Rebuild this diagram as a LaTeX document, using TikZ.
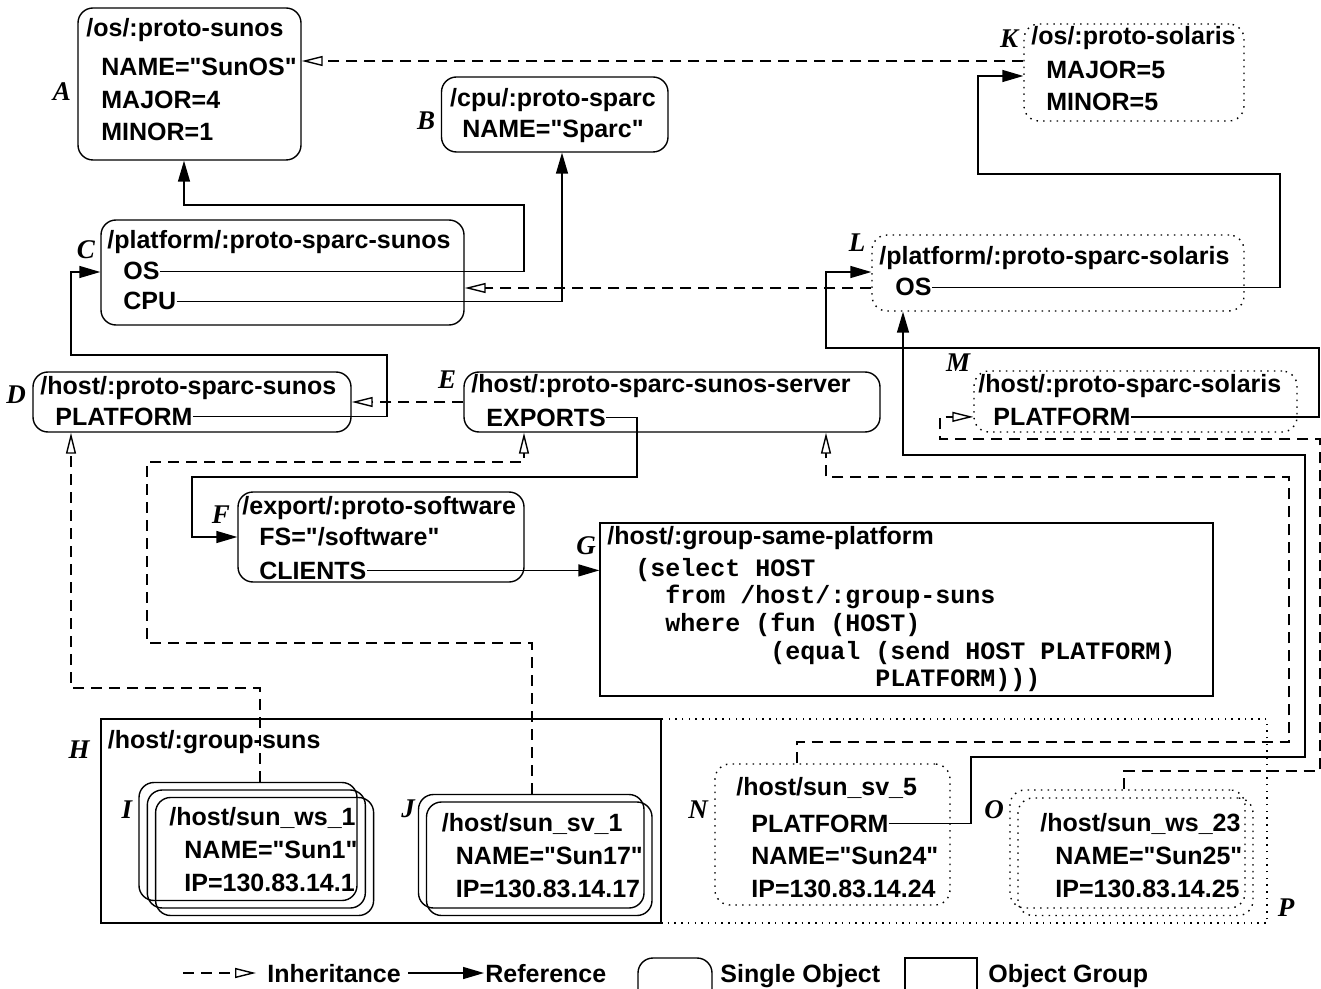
\documentclass[tikz,border=0pt]{standalone}
\usepackage{fontspec}
\newfontfamily\hv{Liberation Sans}
\newfontfamily\mn{Liberation Mono}
\newfontfamily\lblfont{Liberation Serif}
\usetikzlibrary{arrows.meta,fit}
\begin{document}
\begin{tikzpicture}[x=0.5pt,y=-0.5pt,
  obj/.style={draw, line width=0.7pt, rounded corners=7.5pt, inner sep=0pt},
  dobj/.style={obj, dash pattern=on 0.75pt off 2.6pt},
  grp/.style={draw, line width=0.7pt, inner sep=0pt},
  dgrp/.style={grp, dash pattern=on 0.75pt off 2.6pt},
  tx/.style={inner sep=0pt, anchor=base west, font=\hv\bfseries\fontsize{12.5}{15}\selectfont},
  txc/.style={tx, anchor=base},
  mono/.style={inner sep=0pt, anchor=base west, font=\mn\bfseries\fontsize{12.5}{15}\selectfont},
  lbl/.style={inner sep=0pt, font=\lblfont\bfseries\itshape\fontsize{13.5}{16}\selectfont},
  ref/.style={line width=0.7pt, -{Triangle[length=10.5pt,width=6pt]}},
  inh/.style={line width=0.7pt, dash pattern=on 5.5pt off 3.5pt, -{Triangle[open,length=10.5pt,width=5pt]}}
]
\useasboundingbox (0,0) rectangle (1321,989);
\clip (0,0) rectangle (1321,989);

% ---------- boxes ----------
\node[obj, fit={(78,8) (301,160)}] (A) {};
\node[obj, fit={(441.5,77) (668,152)}] (B) {};
\node[dobj, fit={(1024,24) (1244,121)}] (K) {};
\node[obj, fit={(101,220) (464,325)}] (C) {};
\node[dobj, fit={(872,235) (1244,311)}] (L) {};
\node[obj, fit={(33,372) (351,432)}] (D) {};
\node[obj, fit={(464,372) (880,432)}] (E) {};
\node[dobj, fit={(974,371) (1297,432)}] (M) {};
\node[obj, fit={(238,492) (524,582)}] (F) {};
\node[grp, fit={(600,523) (1213,696)}] (G) {};
\node[dgrp, fit={(661,719) (1267,923)}] (P) {};
\node[grp, fit={(101,719) (661,923)}] (H) {};
\node[obj, fit={(139,782.5) (357,900.5)}] (Ia) {};
\node[obj, fit={(147.3,790) (365.3,908)}] (Ib) {};
\node[obj, fit={(155.6,797.5) (373.6,915.5)}] (Ic) {};
\node[obj, fit={(418.5,794.5) (644,908)}] (Ja) {};
\node[obj, fit={(426.5,802) (652,915.5)}] (Jb) {};
\node[dobj, fit={(715,764) (950,905)}] (N) {};
\node[dobj, fit={(1010,790) (1245,908)}] (Oa) {};
\node[dobj, fit={(1018,798) (1253,915.5)}] (Ob) {};

% ---------- texts ----------
\node[tx] (aT) at (86,37) {/os/:proto-sunos};
\node[tx] (aN) at (101,76) {NAME="SunOS"};
\node[tx] (aMa) at (101,108.5) {MAJOR=4};
\node[tx] (aMi) at (101,141) {MINOR=1};

\node[txc] (bT) at (553,107) {/cpu/:proto-sparc};
\node[txc] (bN) at (553,138) {NAME="Sparc"};

\node[tx] (kT) at (1031,45) {/os/:proto-solaris};
\node[tx] (kMa) at (1046,79) {MAJOR=5};
\node[tx] (kMi) at (1046,111) {MINOR=5};

\node[tx] (cT) at (107,249) {/platform/:proto-sparc-sunos};
\node[tx] (cOS) at (123,280) {OS};
\node[tx] (cCPU) at (123,310) {CPU};

\node[tx] (lT) at (879,265) {/platform/:proto-sparc-solaris};
\node[tx] (lOS) at (895,296) {OS};

\node[tx] (dT) at (40,394) {/host/:proto-sparc-sunos};
\node[tx] (dPL) at (55,425) {PLATFORM};

\node[tx] (eT) at (471,393) {/host/:proto-sparc-sunos-server};
\node[tx] (eEX) at (486,426) {EXPORTS};

\node[tx] (mT) at (978,393) {/host/:proto-sparc-solaris};
\node[tx] (mPL) at (993,425.5) {PLATFORM};

\node[tx] (fT) at (242,514) {/export/:proto-software};
\node[tx] (fFS) at (259,545.5) {FS="/software"};
\node[tx] (fCL) at (259,579) {CLIENTS};

\node[tx] (gT) at (607,544) {/host/:group-same-platform};
\node[mono] (g1) at (635,576) {(select HOST};
\node[mono] (g2) at (665,603) {from /host/:group-suns};
\node[mono] (g3) at (665,631) {where (fun (HOST)};
\node[mono] (g4) at (770,659) {(equal (send HOST PLATFORM)};
\node[mono] (g5) at (875,686) {PLATFORM)))};

\node[tx] (hT) at (107.5,748) {/host/:group-suns};

\node[tx] (iT) at (169,825) {/host/sun\_ws\_1};
\node[tx] (iN) at (184,858) {NAME="Sun1"};
\node[tx] (iIP) at (184,891) {IP=130.83.14.1};

\node[tx] (jT) at (441.5,831.5) {/host/sun\_sv\_1};
\node[tx] (jN) at (455.5,864) {NAME="Sun17"};
\node[tx] (jIP) at (455.5,897) {IP=130.83.14.17};

\node[tx] (nT) at (736,795) {/host/sun\_sv\_5};
\node[tx] (nPL) at (751,832) {PLATFORM};
\node[tx] (nN) at (751,864) {NAME="Sun24"};
\node[tx] (nIP) at (751,897) {IP=130.83.14.24};

\node[tx] (oT) at (1040,831.5) {/host/sun\_ws\_23};
\node[tx] (oN) at (1055,864) {NAME="Sun25"};
\node[tx] (oIP) at (1055,897) {IP=130.83.14.25};

% ---------- letter labels ----------
\node[lbl] (lA) at (62,92) {A};
\node[lbl] (lB) at (426,121) {B};
\node[lbl] (lC) at (86,250) {C};
\node[lbl] (lD) at (16,395) {D};
\node[lbl] (lE) at (447,380) {E};
\node[lbl] (lF) at (221,515) {F};
\node[lbl] (lG) at (586,546) {G};
\node[lbl] (lH) at (79,750) {H};
\node[lbl] (lI) at (127,810) {I};
\node[lbl] (lJ) at (408,809) {J};
\node[lbl] (lK) at (1009,39) {K};
\node[lbl] (lL) at (857,243) {L};
\node[lbl] (lM) at (958,363) {M};
\node[lbl] (lN) at (698,810) {N};
\node[lbl] (lO) at (994,810) {O};
\node[lbl] (lP) at (1286,908) {P};

% ---------- connectors ----------
\draw[inh] (K.west |- 0,61) -- (A.east |- 0,61);
\draw[ref] (cOS.east) -| (524,205) -| (A.south -| 184,0);
\draw[ref] (cCPU.east) -| (B.south -| 562,0);
\draw[inh] (L.west |- 0,288) -- (C.east |- 0,288);
\draw[ref] (dPL.east) -| (387,355) -| (71,272) -- (C.west |- 0,272);
\draw[inh] (E.west |- 0,402) -- (D.east |- 0,402);
\draw[ref] (eEX.east) -| (637,477) -| (192,537) -- (F.west |- 0,537);
\draw[ref] (fCL.east) -- (G.west |- fCL.east);
\draw[inh] (Ia.north -| 260,0) |- (71,688) -- (D.south -| 71,0);
\draw[inh] (Ja.north -| 532,0) |- (147,643) |- (524,462) -- (E.south -| 524,0);
\draw[inh] (N.north -| 797,0) |- (1289,742) |- (826,477) -- (E.south -| 826,0);
\draw[inh] (Oa.north -| 1124,0) |- (1320,771) |- (940,439) |- (M.west |- mPL.east);
\draw[ref] (mPL.east) -| (1319,348) -| (826,272) -- (L.west |- 0,272);
\draw[ref] (nPL.east) -| (971,757) -| (1305,455) -| (L.south -| 903,0);
\draw[ref] (lOS.east) -| (1280,174) -| (978,76) -- (K.west |- 0,76);

% ---------- legend ----------
\coordinate (lg1) at (183,973);
\coordinate (lg2) at (256,973);
\draw[inh] (lg1) -- (lg2);
\node[tx] (lgI) at (267,982) {Inheritance};
\coordinate (lg3) at (408,973);
\coordinate (lg4) at (484,973);
\draw[ref] (lg3) -- (lg4);
\node[tx] (lgR) at (485,982) {Reference};
\node[obj, fit={(638,958) (712,1004)}] (lgS) {};
\node[tx] (lgSt) at (720,982) {Single Object};
\node[grp, fit={(905,958) (977,1004)}] (lgG) {};
\node[tx] (lgGt) at (988,982) {Object Group};
\end{tikzpicture}
\end{document}
